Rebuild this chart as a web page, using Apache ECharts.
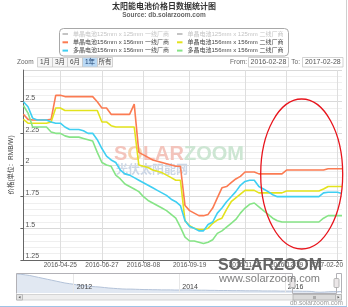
<!DOCTYPE html>
<html><head><meta charset="utf-8">
<script src="https://cdn.jsdelivr.net/npm/echarts@6/dist/echarts.min.js"></script>
<style>html,body{margin:0;padding:0;background:#fff}#c{width:348px;height:307px}</style>
</head><body><div id="c"></div>
<script>
// ---- categories (trading dates shown in the 1-year window) ----
const dates = [
 '2016-02-29','2016-03-07','2016-03-14','2016-03-21','2016-03-28','2016-04-05','2016-04-11','2016-04-18','2016-04-25',
 '2016-05-03','2016-05-09','2016-05-16','2016-05-23','2016-05-30','2016-06-06','2016-06-13','2016-06-20','2016-06-27',
 '2016-07-04','2016-07-07','2016-07-11','2016-07-18','2016-07-21','2016-07-25','2016-07-28','2016-08-01','2016-08-08',
 '2016-08-11','2016-08-15','2016-08-18','2016-08-22','2016-08-25','2016-08-29','2016-09-01','2016-09-05','2016-09-12','2016-09-19',
 '2016-09-22','2016-09-26','2016-09-29','2016-10-10','2016-10-13','2016-10-17','2016-10-20','2016-10-24','2016-10-27','2016-10-31','2016-11-03','2016-11-07',
 '2016-11-10','2016-11-14','2016-11-17','2016-11-21','2016-11-24','2016-11-28','2016-12-05','2016-12-12','2016-12-19',
 '2016-12-22','2016-12-26','2016-12-29','2017-01-03','2017-01-09','2017-01-16','2017-01-23','2017-02-03','2017-02-06','2017-02-13',
 '2017-02-20','2017-02-27'
];
const tickDates = ['2016-04-25','2016-06-27','2016-08-08','2016-09-19','2016-11-07','2016-12-19','2017-02-20'];

// ---- series names ----
const names = [
 '单晶电池125mm x 125mm 一线厂商','单晶电池125mm x 125mm 二线厂商',
 '单晶电池156mm x 156mm 一线厂商','单晶电池156mm x 156mm 二线厂商',
 '多晶电池156mm x 156mm 一线厂商','多晶电池156mm x 156mm 二线厂商'
];

// ---- series values (RMB/W) ----
const mono125Tier1 = [];   // hidden in the reference
const mono125Tier2 = [];   // hidden in the reference
const mono156Tier1 = [2.40,2.36,2.355,2.355,2.355,2.355,2.36,2.55,2.55,2.54,2.54,2.54,2.54,2.54,2.54,2.54,2.50,2.45,2.45,2.40,
 2.40,2.40,2.40,2.40,2.48,2.10,2.08,2.06,2.04,2.03,2.02,2.01,2.00,1.99,1.99,1.68,1.64,1.62,1.60,1.60,
 1.61,1.66,1.74,1.82,1.83,1.86,1.89,1.91,1.945,1.945,1.945,1.93,1.93,1.93,1.93,1.93,1.93,1.96,1.96,1.96,
 1.96,1.96,1.96,1.96,1.96,1.96,1.97,1.97,1.97,1.97];
const mono156Tier2 = [2.36,2.33,2.33,2.33,2.33,2.33,2.34,2.45,2.45,2.43,2.43,2.43,2.43,2.43,2.43,2.43,2.43,2.34,2.34,2.31,
 2.30,2.30,2.30,2.30,2.30,2.00,1.99,1.98,1.96,1.95,1.94,1.92,1.90,1.88,1.88,1.56,1.52,1.50,1.49,1.49,
 1.50,1.54,1.565,1.58,1.65,1.71,1.74,1.77,1.80,1.80,1.80,1.78,1.78,1.78,1.78,1.78,1.78,1.795,1.795,1.795,
 1.795,1.795,1.795,1.795,1.795,1.81,1.83,1.83,1.83,1.83];
const poly156Tier1 = [2.50,2.46,2.37,2.355,2.355,2.355,2.34,2.33,2.33,2.30,2.28,2.28,2.28,2.27,2.25,2.25,2.20,2.13,2.07,2.04,
 2.02,1.96,1.93,1.92,1.90,1.88,1.86,1.84,1.82,1.80,1.78,1.76,1.73,1.71,1.68,1.56,1.515,1.50,1.48,1.48,
 1.53,1.55,1.62,1.66,1.71,1.75,1.79,1.84,1.87,1.88,1.88,1.83,1.81,1.79,1.765,1.75,1.75,1.75,1.75,1.75,
 1.75,1.75,1.75,1.75,1.75,1.78,1.785,1.785,1.785,1.775];
const poly156Tier2 = [2.47,2.41,2.30,2.30,2.30,2.30,2.26,2.25,2.25,2.23,2.22,2.22,2.22,2.21,2.20,2.19,2.10,2.02,2.00,1.99,
 1.92,1.89,1.85,1.83,1.81,1.79,1.75,1.72,1.70,1.68,1.66,1.64,1.61,1.58,1.51,1.43,1.40,1.40,1.39,1.38,
 1.39,1.41,1.46,1.48,1.51,1.54,1.57,1.62,1.66,1.69,1.70,1.67,1.64,1.61,1.58,1.56,1.55,1.55,1.55,1.55,
 1.55,1.55,1.55,1.55,1.55,1.58,1.60,1.60,1.60,1.60];

// ---- navigator (full history, monthly) ----
const navDates = ['2010-12',
 '2011-01','2011-02','2011-03','2011-04','2011-05','2011-06','2011-07','2011-08','2011-09','2011-10','2011-11','2011-12',
 '2012-01','2012-02','2012-03','2012-04','2012-05','2012-06','2012-07','2012-08','2012-09','2012-10','2012-11','2012-12',
 '2013-01','2013-02','2013-03','2013-04','2013-05','2013-06','2013-07','2013-08','2013-09','2013-10','2013-11','2013-12',
 '2014-01','2014-02','2014-03','2014-04','2014-05','2014-06','2014-07','2014-08','2014-09','2014-10','2014-11','2014-12',
 '2015-01','2015-02','2015-03','2015-04','2015-05','2015-06','2015-07','2015-08','2015-09','2015-10','2015-11','2015-12',
 '2016-01','2016-02','2016-03','2016-04','2016-05','2016-06','2016-07','2016-08','2016-09','2016-10','2016-11','2016-12',
 '2017-01','2017-02'];
const navValues = [7.3,7.2,7.0,6.8,6.5,6.2,5.9,5.6,5.3,5.0,4.7,4.4,4.2,4.0,3.7,3.6,3.45,3.3,3.2,3.1,
 2.95,2.8,2.7,2.6,2.5,2.45,2.45,2.4,2.35,2.3,2.3,2.25,2.25,2.2,2.2,2.2,2.15,2.15,2.2,2.2,
 2.15,2.1,2.1,2.1,2.05,2.05,2.0,2.0,2.0,1.95,1.95,1.95,1.9,1.9,1.9,1.9,1.85,1.85,1.85,1.85,
 1.8,1.8,1.8,1.8,1.8,1.75,1.75,1.7,1.5,1.45,1.5,1.6,1.65,1.65,1.65];
const navTicks = ['2012-01','2014-01','2016-01'];

// ---- fixed texts ----
const titleText = '太阳能电池价格日数据统计图';
const subtitleText = 'Source: db.solarzoom.com';
const yAxisTitle = '价格(单位：RMB/W)';
const zoomButtons = ['1月','3月','6月','1年','所有'];
const fromDate = '2016-02-28', toDate = '2017-02-28';

const FONT = "'Liberation Sans','Noto Sans CJK SC',sans-serif";
const colors = ['#9a9a9a','#9a9a9a','#fb7b52','#e3e31c','#3fcff2','#86e486'];
const values = [mono125Tier1, mono125Tier2, mono156Tier1, mono156Tier2, poly156Tier1, poly156Tier2];

const tickSet = new Set(tickDates);
const isTick = (i, v) => tickSet.has(typeof v === 'string' ? v : dates[i]);
const navSet = new Set(navTicks);
const isNavTick = (i, v) => navSet.has(typeof v === 'string' ? v : navDates[i]);

const series = names.map((n, k) => ({
  name: n, type: 'line', data: values[k], xAxisIndex: 0, yAxisIndex: 0,
  showSymbol: false, symbol: 'none', color: colors[k],
  lineStyle: {width: 1.6, color: colors[k]}, z: 3
}));
series.push({
  name: 'navigator', type: 'line', data: navValues, xAxisIndex: 1, yAxisIndex: 1,
  showSymbol: false, symbol: 'none', silent: true, z: 1,
  lineStyle: {width: 1, color: '#b3c2d8'}, areaStyle: {color: '#e1e8f2', opacity: 1}
});

const legendBase = {
  orient: 'vertical', top: 30.5, itemWidth: 5.5, itemHeight: 2, itemGap: 1.3, padding: 0,
  icon: 'rect', inactiveColor: '#c4c4c4',
  textStyle: {fontSize: 6, color: '#444', lineHeight: 7, fontFamily: FONT}
};

const G = [];
// title
G.push({type:'text', x:164, y:7, z:10, style:{text:titleText, font:'bold 8px '+FONT, fill:'#333', textAlign:'center', textVerticalAlign:'middle'}});
G.push({type:'text', x:164, y:15.5, z:10, style:{text:subtitleText, font:'bold 6.5px '+FONT, fill:'#666', textAlign:'center', textVerticalAlign:'middle'}});
// legend box
G.push({type:'rect', z:1, shape:{x:59.5, y:28.5, width:229, height:27.5, r:4}, style:{fill:'none', stroke:'#a8a8a8', lineWidth:1}});
// range selector
G.push({type:'text', x:17, y:62.5, z:10, style:{text:'Zoom', font:'6.5px '+FONT, fill:'#666', textAlign:'left', textVerticalAlign:'middle'}});
zoomButtons.forEach((b, i) => {
  const x0 = 37 + i * 15;
  const sel = (b === '1年');
  G.push({type:'rect', z:10, shape:{x:x0+0.5, y:57.5, width:15, height:9.5}, style:{fill: sel ? '#b9d9f5' : '#f6f6f6', stroke:'#c8c8c8', lineWidth:0.8}});
  G.push({type:'text', x:x0+8, y:62.5, z:11, style:{text:b, font:'6.5px '+FONT, fill: sel ? '#1a3e6e' : '#444', textAlign:'center', textVerticalAlign:'middle'}});
});
G.push({type:'text', x:247, y:62.5, z:10, style:{text:'From:', font:'6.5px '+FONT, fill:'#666', textAlign:'right', textVerticalAlign:'middle'}});
G.push({type:'rect', z:10, shape:{x:248.5, y:57.5, width:40, height:9.5}, style:{fill:'#fff', stroke:'#c8c8c8', lineWidth:0.8}});
G.push({type:'text', x:268.5, y:62.5, z:11, style:{text:fromDate, font:'7px '+FONT, fill:'#555', textAlign:'center', textVerticalAlign:'middle'}});
G.push({type:'text', x:300, y:62.5, z:10, style:{text:'To:', font:'6.5px '+FONT, fill:'#666', textAlign:'right', textVerticalAlign:'middle'}});
G.push({type:'rect', z:10, shape:{x:302.5, y:57.5, width:40.5, height:9.5}, style:{fill:'#fff', stroke:'#c8c8c8', lineWidth:0.8}});
G.push({type:'text', x:322.8, y:62.5, z:11, style:{text:toDate, font:'7px '+FONT, fill:'#555', textAlign:'center', textVerticalAlign:'middle'}});
// middle watermark
G.push({type:'text', x:179, y:154, z:1, silent:true, style:{
  text:'{a|S}{o|O}{a|LAR}{b|ZOOM}', textAlign:'center', textVerticalAlign:'middle',
  rich:{a:{font:'bold 20px '+FONT, fill:'#f3c4bc'}, o:{font:'bold 20px '+FONT, fill:'#f6d3b0'}, b:{font:'bold 20px '+FONT, fill:'#cde6d3'}}}});
G.push({type:'text', x:152, y:170.5, z:1, silent:true, style:{text:'光伏太阳能网', font:'bold 12px '+FONT, fill:'#cdd7e6', textAlign:'center', textVerticalAlign:'middle'}});
// bottom watermark
G.push({type:'text', x:270, y:266, z:50, silent:true, style:{text:'SOLARZOOM', font:'bold 16px '+FONT, fill:'#5a5a5a', textAlign:'center', textVerticalAlign:'middle', opacity:0.92}});
G.push({type:'text', x:269.5, y:279, z:50, silent:true, style:{text:'www.solarzoom.com', font:'11px '+FONT, fill:'#707070', textAlign:'center', textVerticalAlign:'middle', opacity:0.9}});
// red ellipse annotation
G.push({type:'ellipse', z:60, silent:true, shape:{cx:301.7, cy:174, rx:41, ry:75}, style:{fill:'none', stroke:'#e8141c', lineWidth:1.3}});
// navigator outline + handles
G.push({type:'polyline', z:20, silent:true, shape:{points:[[16.5,293.5],[16.5,273.5],[292.5,273.5],[292.5,293.5],[336.5,293.5],[336.5,273.5],[341.5,273.5],[341.5,293.5]]}, style:{fill:'none', stroke:'#b2b1b6', lineWidth:1}});
G.push({type:'rect', z:21, shape:{x:290, y:278.5, width:5, height:9, r:1}, style:{fill:'#ebe7e8', stroke:'#a8a8a8', lineWidth:0.8}});
G.push({type:'rect', z:21, shape:{x:334, y:278.5, width:5, height:9, r:1}, style:{fill:'#ebe7e8', stroke:'#a8a8a8', lineWidth:0.8}});
// scrollbar
G.push({type:'rect', z:20, shape:{x:16.5, y:294.5, width:325, height:5.5}, style:{fill:'#eeeeee', stroke:'#cccccc', lineWidth:0.8}});
G.push({type:'rect', z:21, shape:{x:293, y:294.5, width:43, height:5.5}, style:{fill:'#dadada', stroke:'#b0b0b0', lineWidth:0.8}});
G.push({type:'text', x:314.5, y:297.4, z:22, style:{text:'III', font:'4px '+FONT, fill:'#666', textAlign:'center', textVerticalAlign:'middle'}});
G.push({type:'rect', z:21, shape:{x:16.5, y:294.5, width:6, height:5.5}, style:{fill:'#e4e4e4', stroke:'#b0b0b0', lineWidth:0.8}});
G.push({type:'polygon', z:22, shape:{points:[[18.5,297.3],[20.5,296],[20.5,298.6]]}, style:{fill:'#555'}});
G.push({type:'rect', z:21, shape:{x:335.5, y:294.5, width:6, height:5.5}, style:{fill:'#e4e4e4', stroke:'#b0b0b0', lineWidth:0.8}});
G.push({type:'polygon', z:22, shape:{points:[[339.5,297.3],[337.5,296],[337.5,298.6]]}, style:{fill:'#555'}});
// credits
G.push({type:'text', x:343, y:303.5, z:10, style:{text:'db.solarzoom.com', font:'6.5px '+FONT, fill:'#9a9a9a', textAlign:'right', textVerticalAlign:'middle'}});
// page frame
G.push({type:'line', z:10, shape:{x1:346.5, y1:0, x2:346.5, y2:307}, style:{stroke:'#cfcfcf', lineWidth:1}});
G.push({type:'line', z:10, shape:{x1:0, y1:306.5, x2:347, y2:306.5}, style:{stroke:'#9fc3e6', lineWidth:1}});

const option = {
  animation: false,
  backgroundColor: '#ffffff',
  textStyle: {fontFamily: FONT},
  grid: [
    {left: 16.5, right: 6, top: 70, height: 190, containLabel: false},
    {left: 16.5, right: 6, top: 273, height: 20, containLabel: false}
  ],
  legend: [
    Object.assign({}, legendBase, {left: 62.5, data: [names[0], names[2], names[4]], selected: {[names[0]]: false}}),
    Object.assign({}, legendBase, {left: 177, data: [names[1], names[3], names[5]], selected: {[names[1]]: false}})
  ],
  xAxis: [
    {
      type: 'category', gridIndex: 0, data: dates, boundaryGap: false,
      axisLine: {lineStyle: {color: '#666', width: 1}},
      axisTick: {show: true, length: 3, interval: isTick, lineStyle: {color: '#888'}},
      axisLabel: {interval: isTick, fontSize: 6.5, color: '#555', margin: 2, fontFamily: FONT,
        formatter: v => v === tickDates[tickDates.length - 1] ? '{r|' + v + '}' : v,
        rich: {r: {fontSize: 6.5, color: '#555', fontFamily: FONT, padding: [0, 22, 0, 0]}}},
      splitLine: {show: true, interval: isTick, lineStyle: {color: '#dedede', width: 1}}
    },
    {
      type: 'category', gridIndex: 1, data: navDates, boundaryGap: false, z: 5,
      axisLine: {show: false}, axisTick: {show: false},
      axisLabel: {inside: true, interval: isNavTick, formatter: v => v.slice(0, 4), align: 'left',
        padding: [0, 0, 0, 3], margin: 2, fontSize: 7, color: '#444', fontFamily: FONT},
      splitLine: {show: true, interval: isNavTick, lineStyle: {color: '#e8e8e8'}}
    }
  ],
  yAxis: [
    {
      type: 'value', gridIndex: 0, min: 1.25, max: 2.75, interval: 0.25,
      axisLine: {show: true, lineStyle: {color: '#666', width: 1}},
      axisTick: {show: true, length: 3, lineStyle: {color: '#666'}},
      axisLabel: {inside: true, margin: 2, verticalAlign: 'bottom', align: 'left', fontSize: 7, color: '#555',
        fontFamily: FONT, showMaxLabel: false},
      splitLine: {show: true, lineStyle: {color: '#d9d9d9'}},
      minorTick: {show: false, splitNumber: 5},
      minorSplitLine: {show: true, lineStyle: {color: '#efefef'}},
      name: yAxisTitle, nameLocation: 'middle', nameGap: 6, nameRotate: 90,
      nameTextStyle: {fontSize: 6.5, color: '#444', fontFamily: FONT}
    },
    {type: 'value', gridIndex: 1, min: 1.2, max: 7.6, show: false, splitLine: {show: false}}
  ],
  series: series,
  graphic: {elements: G}
};

const chart = echarts.init(document.getElementById('c'), null, {renderer: 'canvas'});
chart.setOption(option);
</script>
</body></html>
